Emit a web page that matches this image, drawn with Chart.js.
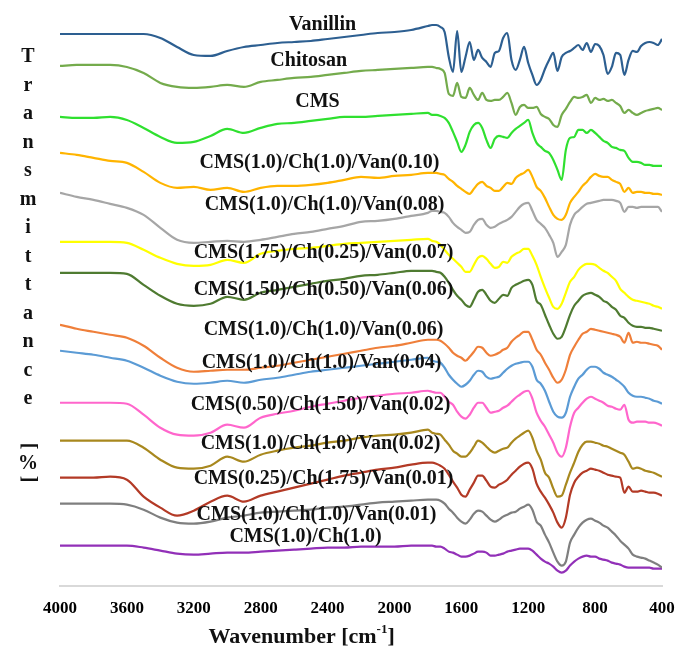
<!DOCTYPE html>
<html>
<head>
<meta charset="utf-8">
<script src="https://cdn.jsdelivr.net/npm/chart.js@4"></script>
<style>
    html, body { margin: 0; padding: 0; background: #fff; }
</style>
</head>
<body>
<canvas id="ftirChart" width="675" height="647"></canvas>
<script>
// wavenumber grid (cm-1), coarse on the smooth OH side, finer in the fingerprint region
const wavenumbers = [4000,3900,3800,3700,3600,3500,3400,3300,3200,3100,3000,2900,2800,2700,2600,2500,2400,2300,2200,2100,2000,1900,1800,
    1775,1750,1725,1700,1675,1650,1625,1600,1575,1550,1525,1500,1475,1450,1425,1400,1375,1350,1325,1300,1275,1250,1225,1200,
    1175,1150,1125,1100,1075,1050,1025,1000,975,950,925,900,875,850,825,800,775,750,725,700,675,650,625,600,575,550,525,500,475,450,425,400];

const xTicks = [400,800,1200,1600,2000,2400,2800,3200,3600,4000];

// offset transmittance (a.u.), top spectrum first
const vanillin = [552,552,552,552,552,552,548,539,531,530,535,539,541,543,544,545,547,549,551,553,554,556,560,
    561,561,559,554,529,514,555,514,529,544,526,536,528,524,519,533,535,548,553,526,516,526,539,523,511,501,506,517,526,533,515,529,533,535,538,541,536,543,534,542,540,531,512,519,533,531,511,526,535,534,540,543,544,543,541,547];
const chitosan = [520,521,521,521,519,513,503,499,498,499,501,499,504,506,508,509,511,513,515,516,517,518,519,
    519,518,517,513,492,490,503,489,488,498,491,486,493,486,485,486,486,489,493,483,471,479,481,478,478,479,472,469,467,461,459,471,477,484,489,488,489,491,483,488,486,487,485,486,483,480,473,476,473,471,473,475,476,477,478,476];
const cms = [469,468,468,469,466,458,449,443,444,450,457,453,458,462,463,465,467,469,469,470,471,472,473,
    471,471,470,468,463,454,444,434,441,454,461,463,458,446,438,447,450,449,448,453,457,460,463,466,453,443,439,435,433,426,416,406,436,448,449,456,456,453,456,453,449,445,443,439,438,436,435,428,424,424,423,421,421,420,420,420];
const van010 = [433,431,428,425,423,414,403,398,399,396,398,394,398,400,400,401,403,406,409,408,410,411,413,
    413,413,412,411,407,404,400,397,394,392,397,402,404,400,398,395,395,399,403,402,408,411,413,416,409,399,395,388,379,371,367,366,371,383,389,394,400,404,409,412,410,409,409,406,404,402,394,398,393,394,394,393,393,392,392,391];
const van008 = [393,389,386,382,378,371,358,346,343,344,345,344,346,349,352,354,357,360,364,365,367,370,373,
    375,375,374,373,369,363,359,356,353,354,361,366,367,361,358,359,362,364,366,369,374,379,382,383,375,366,362,358,351,343,329,334,341,361,371,375,379,382,383,384,385,386,386,386,385,383,374,379,379,378,379,379,379,379,379,374];
const van007 = [344,344,344,344,343,336,328,322,320,321,326,323,332,335,337,338,340,342,343,344,345,346,347,
    345,344,341,336,331,327,323,319,314,314,321,328,330,327,322,318,319,324,323,329,332,334,337,337,330,321,309,298,288,279,277,282,293,304,309,316,320,322,322,321,318,315,313,309,305,297,293,289,286,285,284,283,282,280,279,277];
const van006b = [313,313,313,313,312,301,290,282,280,282,289,286,293,296,299,302,305,307,310,311,313,315,315,
    315,314,313,309,303,296,290,286,281,279,286,294,296,291,285,283,287,291,290,298,301,303,305,306,301,285,281,271,261,252,247,249,259,271,280,285,290,292,293,291,289,285,283,279,276,270,268,263,260,259,259,258,258,257,256,255];
const van006 = [261,257,254,251,248,240,228,218,214,215,216,216,218,220,223,226,229,232,235,238,240,243,246,
    246,246,245,242,238,233,230,228,225,229,234,239,238,233,230,231,233,236,238,244,248,251,254,254,246,236,231,223,216,208,203,206,216,231,239,246,252,254,257,256,255,254,253,252,251,249,243,253,243,244,243,243,242,241,240,236];
const van004 = [235,233,231,228,225,218,210,204,202,203,205,203,206,208,211,214,216,218,220,222,224,226,228,
    225,224,223,218,211,206,202,199,201,205,211,215,214,209,207,208,209,213,217,220,222,223,224,224,219,206,202,195,184,174,169,168,173,189,199,207,211,216,219,219,217,213,211,209,206,203,199,193,190,189,189,188,187,185,184,182];
const van002b = [183,183,183,183,182,171,158,151,150,153,161,158,168,172,175,179,182,185,188,190,192,193,195,
    194,193,193,189,184,181,174,169,167,171,178,183,183,178,173,174,175,178,180,184,188,191,194,195,187,173,165,159,151,143,133,129,138,159,173,178,183,187,189,187,185,183,180,179,177,176,181,166,163,164,164,164,163,163,162,160];
const van002 = [145,145,145,145,145,138,126,118,117,120,129,124,131,135,138,140,143,145,148,150,151,153,156,
    153,152,151,146,141,135,132,129,129,133,139,145,143,139,135,133,135,137,138,143,147,150,153,155,148,135,126,113,108,97,89,90,101,113,123,134,141,144,144,143,142,140,139,137,135,133,131,124,117,118,117,115,114,113,111,109];
const van001b = [108,108,108,109,106,89,78,70,75,84,90,84,90,94,98,102,106,110,113,116,118,121,123,
    123,122,120,117,111,104,98,91,89,96,103,110,110,105,99,98,101,103,106,111,115,119,122,123,117,102,94,88,81,73,63,58,68,91,103,109,113,115,117,116,115,113,111,110,109,108,93,99,94,94,95,94,93,93,92,90];
const van001 = [82,82,82,82,81,76,68,63,62,64,68,70,73,74,75,76,78,79,81,83,84,85,86,
    86,86,85,82,77,73,68,64,62,66,72,75,74,70,66,64,66,69,71,73,74,77,79,81,76,64,60,51,43,33,24,20,24,43,51,58,63,66,67,65,63,60,58,54,50,45,41,37,31,29,28,27,25,23,21,18];
const cmsCh = [40,40,40,40,40,38,35,32,31,32,33,33,34,35,36,37,38,38,39,39,39,40,40,
    40,39,39,37,34,33,31,29,29,30,32,34,34,33,30,30,31,32,34,35,36,37,37,37,35,31,27,24,22,19,15,13,15,20,24,27,29,30,29,29,27,26,25,23,22,21,19,18,18,18,18,18,18,17,17,17];

const sampleNames = ["Vanillin", "Chitosan", "CMS",
    "CMS(1.0)/Ch(1.0)/Van(0.10)", "CMS(1.0)/Ch(1.0)/Van(0.08)", "CMS(1.75)/Ch(0.25)/Van(0.07)",
    "CMS(1.50)/Ch(0.50)/Van(0.06)", "CMS(1.0)/Ch(1.0)/Van(0.06)", "CMS(1.0)/Ch(1.0)/Van(0.04)",
    "CMS(0.50)/Ch(1.50)/Van(0.02)", "CMS(1.0)/Ch(1.0)/Van(0.02)", "CMS(0.25)/Ch(1.75)/Van(0.01)",
    "CMS(1.0)/Ch(1.0)/Van(0.01)", "CMS(1.0)/Ch(1.0)"];
const spectra = [vanillin, chitosan, cms, van010, van008, van007, van006b, van006, van004, van002b, van002, van001b, van001, cmsCh];
const lineColours = ["#2d5f91", "#74ab4c", "#2fe02f", "#ffb400", "#a6a6a6", "#ffff00", "#4f7b31",
    "#ef7f3a", "#5b9bd5", "#ff66cc", "#a8881e", "#b33a26", "#7f7f7f", "#9230b8"];

// where each name sits (wavenumber, offset) - just above its spectrum
const labelSpots = [[2430,561],[2513,525],[2460,484],[2448,423],[2418,381],[2424,333],[2424,296],
    [2424,256],[2436,223],[2442,181],[2442,142],[2424,107],[2466,71],[2532,49]];

const serif = '"Liberation Serif", "Times New Roman", serif';

const textPlugin = {
    id: 'ftirText',
    afterDatasetsDraw(chart) {
        const ctx = chart.ctx;
        const xs = chart.scales.x, ys = chart.scales.y;
        ctx.save();
        ctx.fillStyle = '#111';
        ctx.textAlign = 'center';
        ctx.textBaseline = 'middle';
        ctx.font = 'bold 20px ' + serif;
        sampleNames.forEach((name, i) => {
            ctx.fillText(name, xs.getPixelForValue(labelSpots[i][0]), ys.getPixelForValue(labelSpots[i][1]));
        });

        // vertical "Transmittance [%]", letter by letter
        const letters = "Transmittance".split("");
        letters.forEach((ch, i) => ctx.fillText(ch, 28, 57 + i * 28.5));
        ctx.save(); ctx.translate(28, 446); ctx.rotate(Math.PI / 2); ctx.fillText("[", 0, 0); ctx.restore();
        ctx.fillText("%", 28, 464);
        ctx.save(); ctx.translate(28, 479); ctx.rotate(Math.PI / 2); ctx.fillText("]", 0, 0); ctx.restore();

        // x title with superscript, it sits left of the plot centre in the original
        ctx.font = 'bold 22px ' + serif;
        const main = "Wavenumber [cm", sup = "-1", end = "]";
        const wMain = ctx.measureText(main).width, wEnd = ctx.measureText(end).width;
        ctx.font = 'bold 13px ' + serif;
        const wSup = ctx.measureText(sup).width;
        let x = xs.getPixelForValue(2555) - (wMain + wSup + wEnd) / 2;
        const y = 637;
        ctx.textAlign = 'left';
        ctx.font = 'bold 22px ' + serif;
        ctx.fillText(main, x, y);
        ctx.font = 'bold 13px ' + serif;
        ctx.fillText(sup, x + wMain, y - 7);
        ctx.font = 'bold 22px ' + serif;
        ctx.fillText(end, x + wMain + wSup, y);
        ctx.restore();
    }
};

const datasets = spectra.map((vals, i) => ({
    label: sampleNames[i],
    data: wavenumbers.map((w, j) => ({x: w, y: vals[j]})),
    borderColor: lineColours[i],
    borderWidth: 2.2,
    pointRadius: 0,
    fill: false,
    cubicInterpolationMode: 'monotone'
}));

new Chart("ftirChart", {
    type: "line",
    data: { datasets: datasets },
    plugins: [textPlugin],
    options: {
        responsive: false,
        animation: false,
        layout: { padding: { left: 60, right: 13, top: 10, bottom: 28 } },
        plugins: { legend: { display: false }, tooltip: { enabled: false } },
        scales: {
            x: {
                type: 'linear',
                reverse: true,
                min: 400,
                max: 4000,
                afterBuildTicks: (axis) => { axis.ticks = xTicks.map(v => ({value: v})); },
                ticks: {
                    color: '#000',
                    padding: 0,
                    maxRotation: 0,
                    autoSkip: false,
                    font: { family: serif, size: 17, weight: 'bold' },
                    callback: (v) => String(v)
                },
                // tick marks are not drawn, their length only spaces the labels off the axis
                grid: { display: false, drawTicks: true, tickLength: 13 },
                border: { display: true, color: '#d9d9d9', width: 2 }
            },
            y: { display: false, min: 0, max: 576 }
        }
    }
});
</script>
</body>
</html>
